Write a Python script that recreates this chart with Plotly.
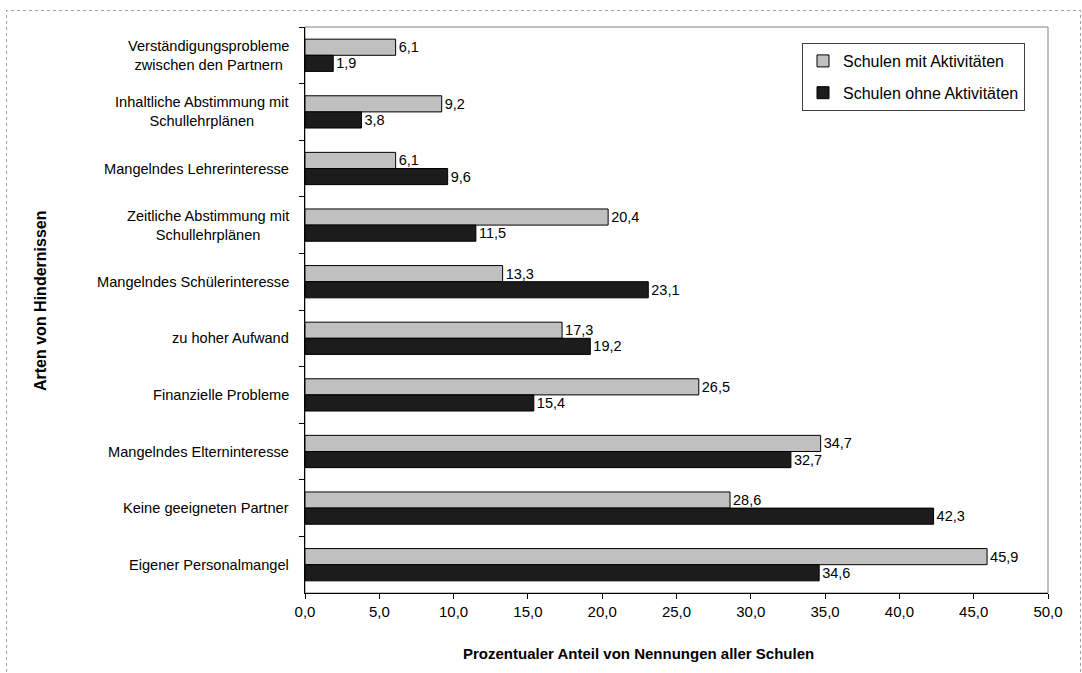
import plotly.graph_objects as go

categories = [
    "Verständigungsprobleme<br>zwischen den Partnern",
    "Inhaltliche Abstimmung mit<br>Schullehrplänen",
    "Mangelndes Lehrerinteresse",
    "Zeitliche Abstimmung mit<br>Schullehrplänen",
    "Mangelndes Schülerinteresse",
    "zu hoher Aufwand",
    "Finanzielle Probleme",
    "Mangelndes Elterninteresse",
    "Keine geeigneten Partner",
    "Eigener Personalmangel",
]
mit_aktivitaeten = [6.1, 9.2, 6.1, 20.4, 13.3, 17.3, 26.5, 34.7, 28.6, 45.9]
ohne_aktivitaeten = [1.9, 3.8, 9.6, 11.5, 23.1, 19.2, 15.4, 32.7, 42.3, 34.6]
x_ticks = [0, 5, 10, 15, 20, 25, 30, 35, 40, 45, 50]

W, H = 1082, 673
L, R, T, B = 305, 1048, 27, 593
FONT = "Liberation Sans, Arial, sans-serif"

fig = go.Figure()
fig.add_trace(go.Bar(
    y=categories, x=mit_aktivitaeten, orientation="h",
    name="Schulen mit Aktivitäten", legendgroup="a",
    marker=dict(color="#c0c0c0", line=dict(color="#000000", width=1)),
    text=mit_aktivitaeten, texttemplate="%{x:.1f}", textposition="outside",
    textfont=dict(size=14.5, color="#000000", family=FONT), cliponaxis=False,
))
fig.add_trace(go.Bar(
    y=categories, x=ohne_aktivitaeten, orientation="h",
    name="Schulen ohne Aktivitäten", legendgroup="b",
    marker=dict(color="#1c1c1c", line=dict(color="#000000", width=1)),
    text=ohne_aktivitaeten, texttemplate="%{x:.1f}", textposition="outside",
    textfont=dict(size=14.5, color="#000000", family=FONT), cliponaxis=False,
))

def px(x):
    return (x - L) / (R - L)

def py(y):
    return (B - y) / (B - T)

annotations = []
for c in categories:
    annotations.append(dict(
        text=c, xref="paper", yref="y", x=0, y=c, xanchor="right", yanchor="middle",
        xshift=-14, align="center", showarrow=False,
        font=dict(size=14.6, color="#000000", family=FONT),
    ))
annotations.append(dict(
    text="<b>Prozentualer Anteil von Nennungen aller Schulen</b>",
    xref="paper", yref="paper", x=px(638), y=py(653), xanchor="center", yanchor="middle",
    showarrow=False, font=dict(size=15, color="#000000", family=FONT),
))
annotations.append(dict(
    text="<b>Arten von Hindernissen</b>", textangle=-90,
    xref="paper", yref="paper", x=px(40), y=py(301), xanchor="center", yanchor="middle",
    showarrow=False, font=dict(size=16, color="#000000", family=FONT),
))

shapes = [
    dict(type="rect", xref="paper", yref="paper", x0=0, x1=1, y0=0, y1=1,
         line=dict(color="#808080", width=1), layer="below"),
    dict(type="rect", xref="paper", yref="paper", x0=px(6.5), x1=px(1080.5), y0=py(690), y1=py(10.5),
         line=dict(color="#a0a0a0", width=1, dash="dot"), layer="below"),
]

fig.update_layout(
    width=W, height=H,
    margin=dict(l=L, r=W - R, t=T, b=H - B),
    paper_bgcolor="white", plot_bgcolor="white",
    separators=",.",
    barmode="group", bargap=0.43, bargroupgap=0,
    font=dict(family=FONT, size=14, color="#000000"),
    showlegend=True,
    legend=dict(
        x=px(802), y=py(43), xanchor="left", yanchor="top",
        bgcolor="white", bordercolor="#404040", borderwidth=1,
        font=dict(size=16, family=FONT, color="#000000"),
        itemwidth=30, traceorder="grouped", tracegroupgap=8,
    ),
    annotations=annotations,
    shapes=shapes,
)
fig.update_xaxes(
    range=[0, 50], tickvals=x_ticks, tickformat=".1f",
    showgrid=False, zeroline=False,
    showline=True, linecolor="#000000", linewidth=1,
    ticks="outside", ticklen=5, tickcolor="#000000",
    tickfont=dict(size=15, family=FONT, color="#000000"),
)
fig.update_yaxes(
    autorange="reversed", showgrid=False, zeroline=False,
    showline=True, linecolor="#000000", linewidth=1,
    ticks="outside", ticklen=5, tickcolor="#000000", tickson="boundaries",
    showticklabels=False,
)

fig.write_html("out.html")
